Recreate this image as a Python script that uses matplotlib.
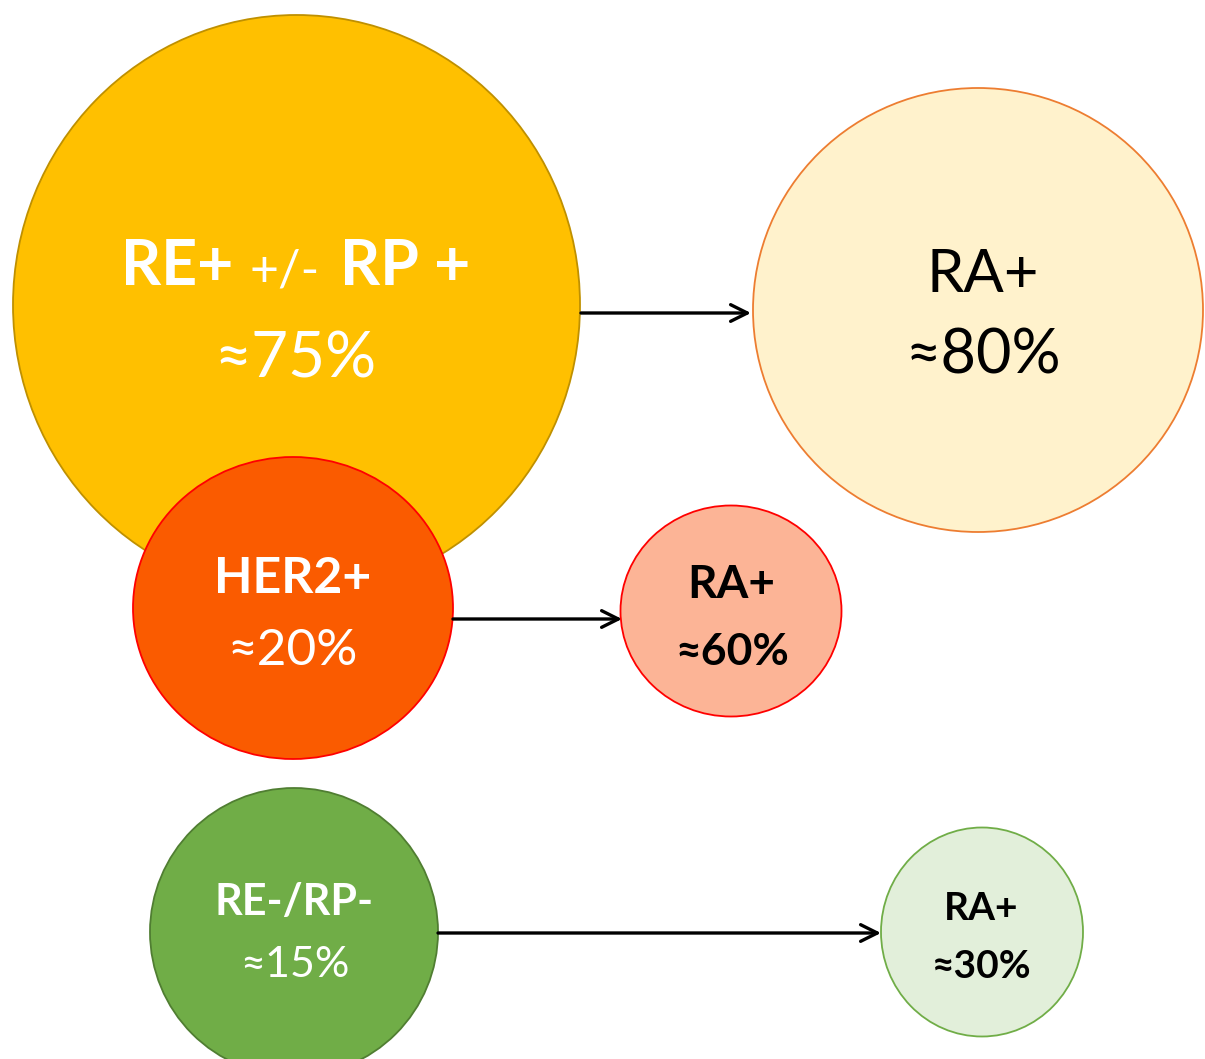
import matplotlib.pyplot as plt
from matplotlib.patches import Ellipse

plt.rcParams['font.family'] = ['Lato', 'DejaVu Sans']

# data
groups = ['RE+ +/- RP +', 'HER2+', 'RE-/RP-']
group_pct = [75, 20, 15]
ra_label = 'RA+'
ra_pct = [80, 60, 30]

# layout (pixel space, y downwards)
W, H = 1205, 1059
src = [(296.5, 305, 567, 580), (293, 608, 320, 302), (294, 932, 288, 288)]
dst = [(978, 310, 450, 444), (731, 611, 221, 211), (982, 932, 202, 209)]
src_fc = ['#FFC000', '#FA5B00', '#70AD47']
src_ec = ['#BF9000', '#FF0000', '#507E32']
dst_fc = ['#FFF2CC', '#FCB496', '#E2EFDA']
dst_ec = ['#ED7D31', '#FF0000', '#70AD47']
arrow_y = [313, 619, 933]
arrow_x = [(581, 751), (453, 622), (438, 881)]

fig = plt.figure(figsize=(W / 100, H / 100), dpi=100)
ax = fig.add_axes([0, 0, 1, 1])
ax.set_xlim(0, W)
ax.set_ylim(H, 0)
ax.axis('off')

for i in range(3):
    cx, cy, w, h = src[i]
    ax.add_patch(Ellipse((cx, cy), w, h, fc=src_fc[i], ec=src_ec[i], lw=1.3, zorder=2 + i))
    cx, cy, w, h = dst[i]
    ax.add_patch(Ellipse((cx, cy), w, h, fc=dst_fc[i], ec=dst_ec[i], lw=1.3, zorder=2))
    x0, x1 = arrow_x[i]
    ax.annotate('', xy=(x1, arrow_y[i]), xytext=(x0, arrow_y[i]),
                arrowprops=dict(arrowstyle='->', lw=2.4, color='black',
                                mutation_scale=30, shrinkA=0, shrinkB=0), zorder=6)

# big yellow title in three sizes
p1, p2, p3 = groups[0].split(' ', 2)
ax.text(177, 285, p1, ha='center', va='baseline', color='white', fontsize=45, fontweight='bold', zorder=10)
ax.text(285, 285, p2, ha='center', va='baseline', color='white', fontsize=36, zorder=10)
ax.text(405, 285, p3, ha='center', va='baseline', color='white', fontsize=45, fontweight='bold', zorder=10)
ax.text(295, 377, '≈%d%%' % group_pct[0], ha='center', va='baseline', color='white', fontsize=46, zorder=10)

ax.text(293, 593, groups[1], ha='center', va='baseline', color='white', fontsize=36, fontweight='bold', zorder=10)
ax.text(293, 665, '≈%d%%' % group_pct[1], ha='center', va='baseline', color='white', fontsize=37, zorder=10)

ax.text(294, 915, groups[2], ha='center', va='baseline', color='white', fontsize=31, fontweight='bold', zorder=10)
ax.text(295, 977, '≈%d%%' % group_pct[2], ha='center', va='baseline', color='white', fontsize=31, zorder=10)

# RA+ circles
ax.text(983, 292, ra_label, ha='center', va='baseline', color='black', fontsize=43, zorder=10)
ax.text(983, 373, '≈%d%%' % ra_pct[0], ha='center', va='baseline', color='black', fontsize=44, zorder=10)
ax.text(731, 598, ra_label, ha='center', va='baseline', color='black', fontsize=33, fontweight='bold', zorder=10)
ax.text(732, 665, '≈%d%%' % ra_pct[1], ha='center', va='baseline', color='black', fontsize=32, fontweight='bold', zorder=10)
ax.text(981, 920, ra_label, ha='center', va='baseline', color='black', fontsize=28, fontweight='bold', zorder=10)
ax.text(982, 978, '≈%d%%' % ra_pct[2], ha='center', va='baseline', color='black', fontsize=28, fontweight='bold', zorder=10)

fig.savefig('out.png', dpi=100)
